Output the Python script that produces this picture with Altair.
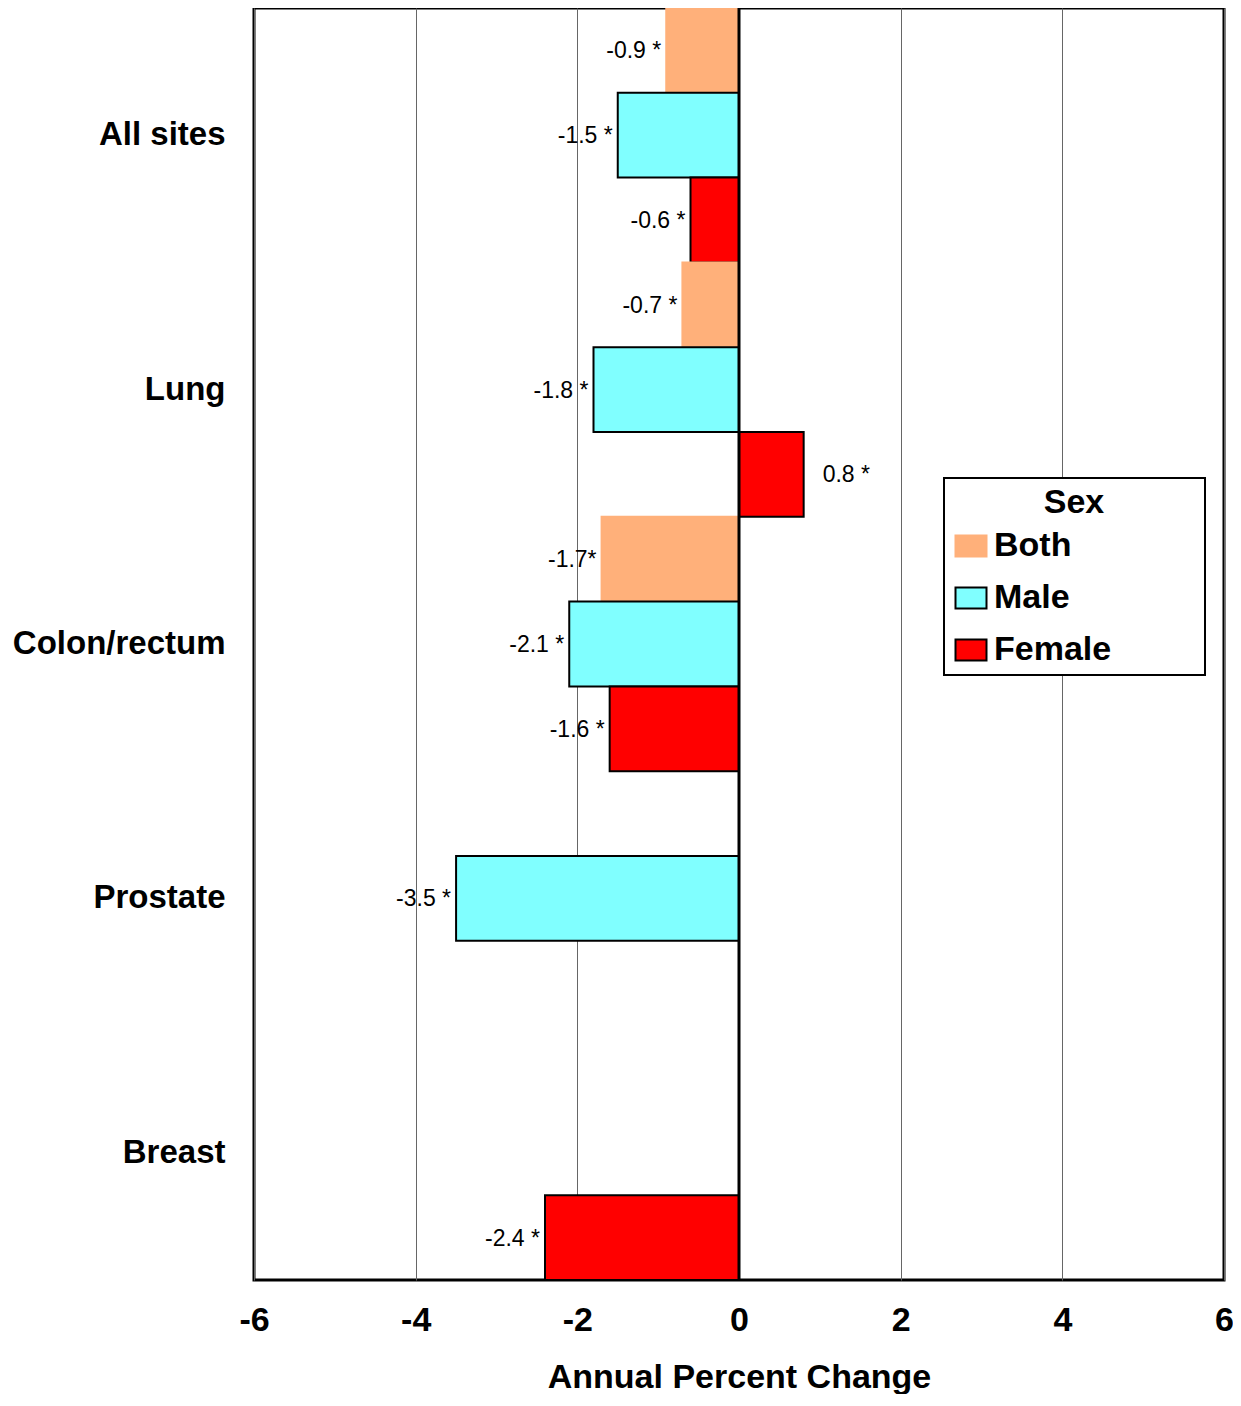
import altair as alt
import pandas as pd

# ---- data ----
sites = ["All sites", "Lung", "Colon/rectum", "Prostate", "Breast"]
sexes = ["Both", "Male", "Female"]
site_col = ["All sites"] * 3 + ["Lung"] * 3 + ["Colon/rectum"] * 3 + ["Prostate", "Breast"]
sex_col = ["Both", "Male", "Female"] * 3 + ["Male", "Female"]
apc = [-0.9, -1.5, -0.6, -0.7, -1.8, 0.8, -1.7, -2.1, -1.6, -3.5, -2.4]
labels = ["-0.9 *", "-1.5 *", "-0.6 *", "-0.7 *", "-1.8 *", "0.8 *",
          "-1.7*", "-2.1 *", "-1.6 *", "-3.5 *", "-2.4 *"]
fill_colors = ["#FFB07A", "#80FFFF", "#FF0000"]
stroke_colors = ["#FFB07A", "#000000", "#000000"]
x_ticks = [-6, -4, -2, 0, 2, 4, 6]
zero_line = [0]

df = pd.DataFrame({"Site": site_col, "Sex": sex_col, "APC": apc, "Label": labels})
zero_df = pd.DataFrame({"z": zero_line})

FONT = "Liberation Sans"
BIG = 34
xscale = alt.Scale(domain=[-6, 6], nice=False, zero=False)
yscale = alt.Scale(domain=sites, paddingInner=0, paddingOuter=0)
yoff = alt.YOffset("Sex:N", sort=sexes, scale=alt.Scale(domain=sexes, paddingInner=0, paddingOuter=0))
PAD = "\u00a0" * 9 + "\u200b"
legend = alt.Legend(
    title="Sex", orient="none", legendX=690, legendY=470,
    symbolType="M-1,-0.68H1V0.68H-1Z", symbolSize=961, symbolStrokeWidth=2,
    labelExpr=f"datum.label + '{PAD}'",
)

xaxis = alt.Axis(values=x_ticks, grid=True, ticks=False, domain=False,
                 labelExpr="datum.value + ''",
                 labelFontSize=BIG, labelFontWeight="bold", labelPadding=23,
                 labelColor="black", titleFontSize=BIG, titleFontWeight="bold",
                 titlePadding=23, titleColor="black", gridColor="#666666", gridWidth=1,
                 labelFlush=False)
yaxis = alt.Axis(ticks=False, domain=False, labelFontSize=33, labelFontWeight="bold",
                 labelPadding=29, labelColor="black", title=None, labelLimit=400)

bars = alt.Chart(df).mark_bar(strokeWidth=2).encode(
    y=alt.Y("Site:N", sort=sites, scale=yscale, axis=yaxis),
    yOffset=yoff,
    x=alt.X("APC:Q", scale=xscale, axis=xaxis, title="Annual Percent Change"),
    fill=alt.Fill("Sex:N", sort=sexes, scale=alt.Scale(domain=sexes, range=fill_colors), legend=legend),
    stroke=alt.Stroke("Sex:N", sort=sexes, scale=alt.Scale(domain=sexes, range=stroke_colors), legend=legend),
)

neg_text = alt.Chart(df).transform_filter("datum.APC < 0").mark_text(
    align="right", baseline="middle", dx=-5, dy=1, fontSize=23, font=FONT, color="black"
).encode(
    y=alt.Y("Site:N", sort=sites, scale=yscale),
    yOffset=yoff,
    x=alt.X("APC:Q", scale=xscale, title="Annual Percent Change"),
    text="Label:N",
)

pos_text = alt.Chart(df).transform_filter("datum.APC > 0").mark_text(
    align="left", baseline="middle", dx=19, dy=1, fontSize=23, font=FONT, color="black"
).encode(
    y=alt.Y("Site:N", sort=sites, scale=yscale),
    yOffset=yoff,
    x=alt.X("APC:Q", scale=xscale, title="Annual Percent Change"),
    text="Label:N",
)

zero = alt.Chart(zero_df).mark_rule(color="black", strokeWidth=3).encode(
    x=alt.X("z:Q", scale=xscale, title="Annual Percent Change"),
)

chart = alt.layer(bars, zero, neg_text, pos_text).properties(
    width=970, height=1272,
    autosize=alt.AutoSizeParams(type="none"),
    padding={"left": 246, "top": 0, "right": 9, "bottom": 114},
).configure(font=FONT).configure_view(
    stroke="black", strokeWidth=3
).configure_legend(
    strokeColor="black", strokeWidth=2, padding=8, fillColor="white",
    titleFontSize=BIG, titleFontWeight="bold", titleColor="black", titleAnchor="middle",
    titlePadding=9, labelFontSize=BIG, labelFontWeight="bold", labelColor="black",
    labelOffset=6, rowPadding=18, labelLimit=400, symbolOffset=2,
)

chart.save("out.html", embed_options={"renderer": "svg", "actions": False})
